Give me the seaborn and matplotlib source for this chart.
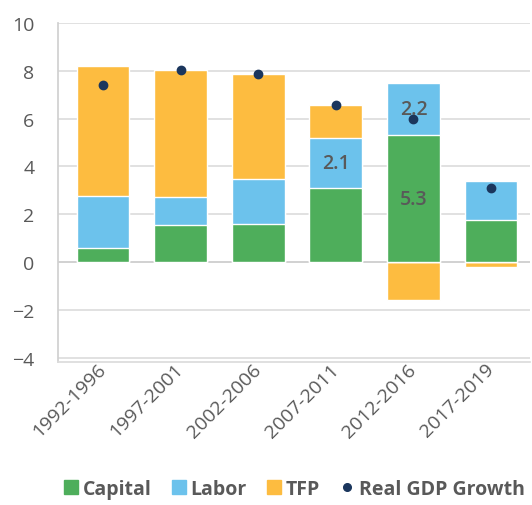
import numpy as np
import pandas as pd
import matplotlib.pyplot as plt
import matplotlib.lines as mlines
import seaborn as sns

periods = ['1992-1996', '1997-2001', '2002-2006', '2007-2011', '2012-2016', '2017-2019']
capital = [0.6, 1.55, 1.6, 3.1, 5.3, 1.78]
labor = [2.15, 1.18, 1.88, 2.1, 2.2, 1.6]
tfp = [5.45, 5.3, 4.4, 1.35, -1.58, -0.2]
gdp = [7.4, 8.05, 7.85, 6.55, 6.0, 3.1]
label_periods = ['2007-2011', '2012-2016', '2012-2016']
label_series = ['labor', 'labor', 'capital']

col_cap = '#4EAE5B'
col_lab = '#6CC2EC'
col_tfp = '#FDBC40'
col_gdp = '#1B365D'
grey = '#595959'

sns.set_theme(style='white')
plt.rcParams['font.family'] = ['Open Sans', 'DejaVu Sans']

df = pd.DataFrame({'period': periods, 'capital': capital, 'labor': labor, 'tfp': tfp, 'gdp': gdp})
df['cap_lab'] = df['capital'] + df['labor']
# TFP stacks on top when positive, below zero when negative
df['tfp_top'] = np.where(df['tfp'] > 0, df['cap_lab'] + df['tfp'], df['tfp'])

fig = plt.figure(figsize=(5.32, 5.06), dpi=100)
ax = fig.add_axes([0.109, 0.2826, 0.887, 0.6700])

bw = 0.68
sns.barplot(data=df, x='period', y='tfp_top', color=col_tfp, width=bw, saturation=1, ax=ax, zorder=2)
sns.barplot(data=df, x='period', y='cap_lab', color=col_lab, width=bw, saturation=1, ax=ax, zorder=2)
sns.barplot(data=df, x='period', y='capital', color=col_cap, width=bw, saturation=1, ax=ax, zorder=2)
sns.pointplot(data=df, x='period', y='gdp', color=col_gdp, linestyle='none', markers='o',
              markersize=5, ax=ax, zorder=4)

for p, s in zip(label_periods, label_series):
    i = periods.index(p)
    if s == 'labor':
        y = capital[i] + labor[i] / 2
        txt = f'{labor[i]:.1f}'
    else:
        y = capital[i] / 2
        txt = f'{capital[i]:.1f}'
    ax.text(i, y, txt, ha='center', va='center', fontsize=14, fontweight='semibold', color=grey, zorder=5)

ax.set_ylim(-4.18, 10)
ax.set_xlim(-0.58, 5.5)
ax.set_yticks([-4, -2, 0, 2, 4, 6, 8, 10])
ax.yaxis.grid(True, color='#dcdcdc', linewidth=1.2, zorder=0)
ax.set_axisbelow(True)
ax.axhline(0, color='#cfcfcf', linewidth=1.2, zorder=1)
ax.set_xlabel('')
ax.set_ylabel('')
for side in ['top', 'right']:
    ax.spines[side].set_visible(False)
ax.spines['left'].set_color('#d0d0d0')
ax.spines['bottom'].set_color('#dcdcdc')
ax.tick_params(axis='y', length=0, pad=17, labelsize=14, labelcolor=grey)
ax.tick_params(axis='x', length=0, pad=3, labelsize=14, labelcolor=grey)
for lbl in ax.get_xticklabels():
    lbl.set_rotation(45)
    lbl.set_ha('right')
    lbl.set_va('center')
    lbl.set_rotation_mode('anchor')

handles = [
    mlines.Line2D([], [], marker='s', linestyle='none', markersize=9.5, color=col_cap, label='Capital'),
    mlines.Line2D([], [], marker='s', linestyle='none', markersize=9.5, color=col_lab, label='Labor'),
    mlines.Line2D([], [], marker='s', linestyle='none', markersize=9.5, color=col_tfp, label='TFP'),
    mlines.Line2D([], [], marker='o', linestyle='none', markersize=5.5, color=col_gdp, label='Real GDP Growth'),
]
leg = fig.legend(handles=handles, loc='lower center', bbox_to_anchor=(0.553, -0.022), ncol=4,
                 frameon=False, handlelength=0.7, handletextpad=0.25, columnspacing=1.05,
                 prop={'size': 14, 'weight': 'bold'})
for t in leg.get_texts():
    t.set_color(grey)

fig.savefig('out.png', dpi=100)
